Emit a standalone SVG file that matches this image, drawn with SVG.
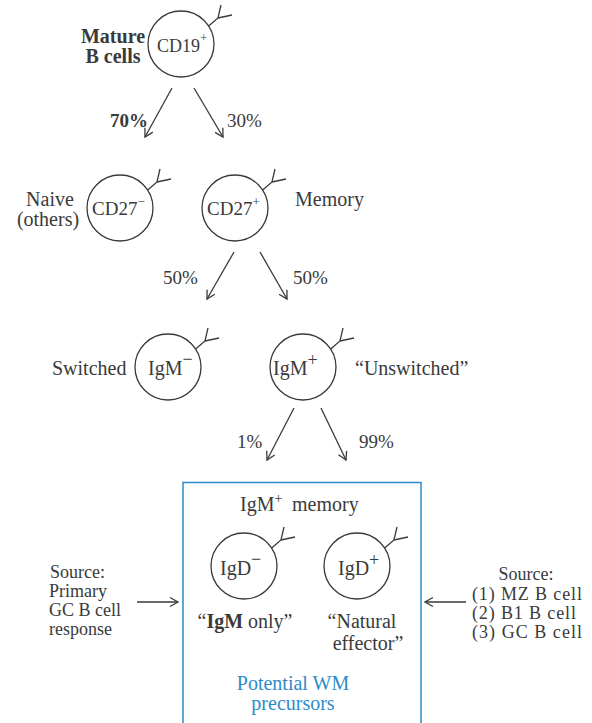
<svg xmlns="http://www.w3.org/2000/svg" width="592" height="723" viewBox="0 0 592 723">
<style>
text{font-family:"Liberation Serif","Times New Roman",serif;fill:#3a3a3a;font-size:20px}
.c{font-size:19px}
.p{font-size:19px}
.s{font-size:18px}
.b{font-weight:bold}
.blue{fill:#2e8bc9}
.ln{stroke:#3a3a3a;stroke-width:1.3;fill:none}
</style>
<defs>
<marker id="ah" markerUnits="userSpaceOnUse" markerWidth="14" markerHeight="14" viewBox="-10 -7 12 14" refX="0" refY="0" orient="auto">
<path d="M-8,-4.5 L0,0 L-8,4.5" fill="none" stroke="#3a3a3a" stroke-width="1.3"/>
</marker>
<g id="cell">
<circle cx="0" cy="0" r="33" fill="#fff" stroke="#3a3a3a" stroke-width="1.3"/>
<path d="M27.7,-18 L37,-26 L40,-39 M37,-26 L51,-29" fill="none" stroke="#3a3a3a" stroke-width="1.3"/>
</g>
</defs>
<rect width="592" height="723" fill="#fff"/>

<g id="connectors">
<line class="ln" x1="172" y1="88" x2="145" y2="137" marker-end="url(#ah)"/>
<line class="ln" x1="194" y1="88" x2="223" y2="137" marker-end="url(#ah)"/>
<line class="ln" x1="234" y1="252" x2="207" y2="299" marker-end="url(#ah)"/>
<line class="ln" x1="260" y1="252" x2="287" y2="299" marker-end="url(#ah)"/>
<line class="ln" x1="294" y1="408" x2="267" y2="460" marker-end="url(#ah)"/>
<line class="ln" x1="321" y1="408" x2="346" y2="460" marker-end="url(#ah)"/>
<line class="ln" x1="137" y1="602" x2="178" y2="602" marker-end="url(#ah)"/>
<line class="ln" x1="466" y1="602" x2="425" y2="602" marker-end="url(#ah)"/>
<text class="p b" x="110" y="127">70%</text>
<text class="p" x="227" y="127">30%</text>
<text class="p" x="163" y="284">50%</text>
<text class="p" x="293" y="284">50%</text>
<text class="p" x="237" y="448">1%</text>
<text class="p" x="359" y="448">99%</text>
</g>

<g id="node-cd19">
<use href="#cell" x="181" y="44"/>
<text x="157" y="52" style="font-size:18px">CD19<tspan style="font-size:13px" dy="-10">+</tspan></text>
<text class="b" x="113" y="43" text-anchor="middle">Mature</text>
<text class="b" x="113" y="63" text-anchor="middle">B cells</text>
</g>

<g id="node-cd27neg">
<use href="#cell" x="120" y="208"/>
<text class="c" x="92" y="215">CD27<tspan style="font-size:13px" dy="-9">−</tspan></text>
<text x="50" y="206" text-anchor="middle">Naive</text>
<text x="48" y="226" text-anchor="middle">(others)</text>
</g>

<g id="node-cd27pos">
<use href="#cell" x="235" y="208"/>
<text class="c" x="207" y="215">CD27<tspan style="font-size:13px" dy="-9">+</tspan></text>
<text x="295" y="206">Memory</text>
</g>

<g id="node-igmneg">
<use href="#cell" x="168" y="367"/>
<text x="148" y="375">IgM<tspan style="font-size:18px" dy="-10">−</tspan></text>
<text x="52" y="375">Switched</text>
</g>

<g id="node-igmpos">
<use href="#cell" x="303" y="367"/>
<text x="273" y="375">IgM<tspan style="font-size:18px" dy="-9">+</tspan></text>
<text x="355" y="375">“Unswitched”</text>
</g>

<g id="node-memory-box">
<rect x="183" y="482.5" width="238" height="250" fill="none" stroke="#2e8bc9" stroke-width="1.5"/>
<text x="240" y="511">IgM<tspan style="font-size:14px" dy="-8">+</tspan><tspan x="292" dy="8">memory</tspan></text>
<text class="blue" x="293" y="690" text-anchor="middle">Potential WM</text>
<text class="blue" x="293" y="710" text-anchor="middle">precursors</text>
</g>

<g id="node-igdneg">
<use href="#cell" x="244" y="566"/>
<text x="220" y="575">IgD<tspan style="font-size:18px" dy="-10">−</tspan></text>
<text x="245" y="628" text-anchor="middle">“<tspan class="b">IgM</tspan> only”</text>
</g>

<g id="node-igdpos">
<use href="#cell" x="357" y="566"/>
<text x="338" y="575">IgD<tspan style="font-size:18px" dy="-9">+</tspan></text>
<text x="362" y="628" text-anchor="middle">“Natural</text>
<text x="368" y="650" text-anchor="middle">effector”</text>
</g>

<g id="source-left">
<text class="s" x="50" y="578">Source:</text>
<text class="s" x="49" y="597">Primary</text>
<text class="s" x="49" y="616">GC B cell</text>
<text class="s" x="49" y="635">response</text>
</g>

<g id="source-right">
<text class="s" x="526" y="580" text-anchor="middle">Source:</text>
<text class="s" x="472" y="600" textLength="110">(1) MZ B cell</text>
<text class="s" x="472" y="619" textLength="104">(2) B1 B cell</text>
<text class="s" x="472" y="638" textLength="110">(3) GC B cell</text>
</g>
</svg>
